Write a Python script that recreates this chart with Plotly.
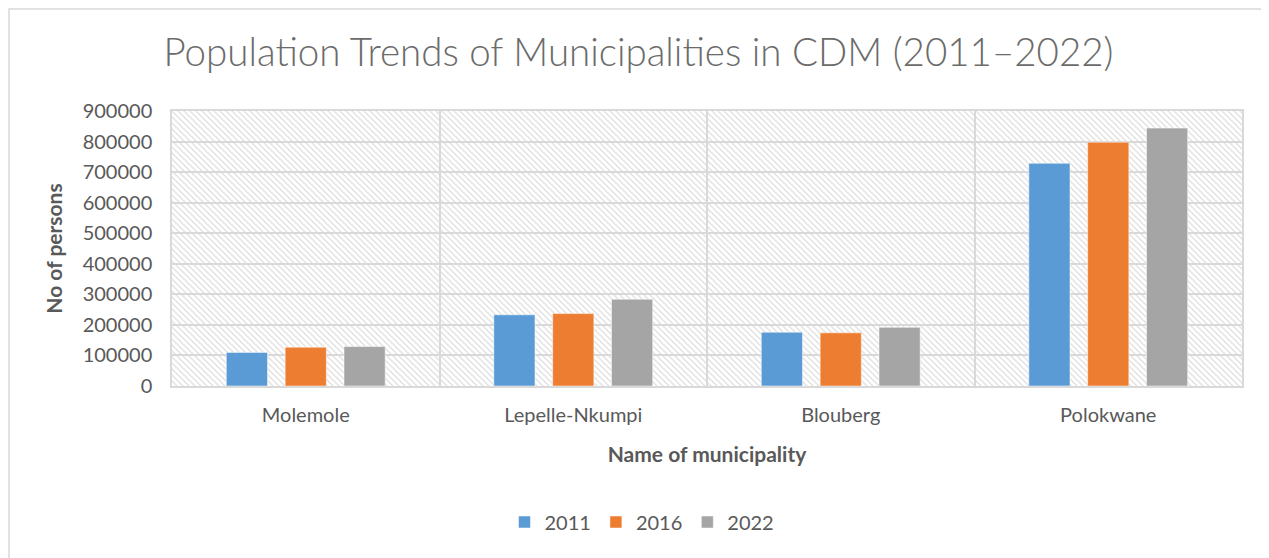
import base64
import plotly.graph_objs as go

municipalities = ["Molemole", "Lepelle-Nkumpi", "Blouberg", "Polokwane"]
years = ["2011", "2016", "2022"]
pop_2011 = [110000, 233000, 176000, 729000]
pop_2016 = [127000, 237000, 174000, 798000]
pop_2022 = [129000, 284000, 192000, 844000]
y_ticks = list(range(0, 900001, 100000))

colours = ["#5b9bd5", "#ed7d31", "#a5a5a5"]
series = [pop_2011, pop_2016, pop_2022]

# light downward-diagonal hatch, like the Excel plot area fill
hatch_svg = (
    '<svg xmlns="http://www.w3.org/2000/svg" width="1070" height="275">'
    '<defs><pattern id="h" width="6" height="6" patternUnits="userSpaceOnUse">'
    '<rect width="6" height="6" fill="white"/>'
    '<path d="M-1,-1 L7,7 M-1,5 L1,7 M5,-1 L7,1" stroke="#e2e2e2" stroke-width="1.4"/>'
    '</pattern></defs>'
    '<rect width="1070" height="275" fill="url(#h)"/></svg>'
)
hatch_uri = "data:image/svg+xml;base64," + base64.b64encode(hatch_svg.encode()).decode()

fig = go.Figure()
for name, vals, col in zip(years, series, colours):
    fig.add_trace(go.Bar(
        x=municipalities, y=vals, name=name,
        marker=dict(color=col, line=dict(color="rgba(255,255,255,0.5)", width=1)),
        hoverinfo="y"
    ))

font_family = "Lato, 'Open Sans', sans-serif"
grey_text = "#595959"
grid = "#d9d9d9"

# page has an 8px body margin, so the figure is drawn from (8, 8)
W, H = 1261, 550
L, R, T, B = 164, 27, 103, 172
pw, ph = W - L - R, H - T - B

fig.update_layout(
    width=W, height=H,
    margin=dict(l=L, r=R, t=T, b=B),
    paper_bgcolor="white",
    plot_bgcolor="rgba(0,0,0,0)",
    barmode="group",
    bargap=0.34,
    bargroupgap=0.30,
    font=dict(family=font_family, color=grey_text, size=20),
    title=dict(
        text="Population Trends of Municipalities in CDM (2011–2022)",
        x=0.5, xanchor="center", y=1 - 45 / H, yanchor="middle",
        font=dict(family="Lato Light, Lato, sans-serif", size=38.5, color="#6b6b6b")
    ),
    xaxis=dict(
        showgrid=True, gridcolor=grid, gridwidth=1.5,
        tickson="boundaries", ticks="", showline=True, linecolor=grid, linewidth=1.5,
        mirror=True, ticklabelstandoff=10,
        tickfont=dict(size=20, color=grey_text),
        title=dict(text="<b>Name of municipality</b>", font=dict(size=21, color=grey_text), standoff=23),
    ),
    yaxis=dict(
        range=[0, 900000], tickvals=y_ticks, ticktext=[str(v) for v in y_ticks],
        showgrid=True, gridcolor=grid, gridwidth=1.5, zeroline=False,
        showline=True, linecolor=grid, linewidth=1.5, mirror=True,
        tickfont=dict(size=20, color=grey_text), ticks="", ticklabelstandoff=14,
        title=dict(text="<b>No of persons</b>", font=dict(size=21, color=grey_text), standoff=14),
    ),
    legend=dict(
        orientation="h", x=(642 - 8 - L) / pw, xanchor="center",
        y=-(522 - 8 - T - ph) / ph, yanchor="middle",
        font=dict(size=20, color=grey_text), traceorder="normal",
        itemwidth=30,
    ),
    images=[dict(
        source=hatch_uri, xref="paper", yref="paper", x=0, y=1,
        sizex=1, sizey=1, sizing="stretch", xanchor="left", yanchor="top",
        layer="below"
    )],
    shapes=[dict(
        type="rect", xref="paper", yref="paper",
        x0=(1 - L) / pw, x1=(W - 1.5 - L) / pw,
        y0=-(H + 10 - T - ph) / ph, y1=1 + (T - 1) / ph,
        line=dict(color="#d9d9d9", width=1.5), fillcolor="rgba(0,0,0,0)",
        layer="below"
    )],
)

fig.write_html("out.html")
